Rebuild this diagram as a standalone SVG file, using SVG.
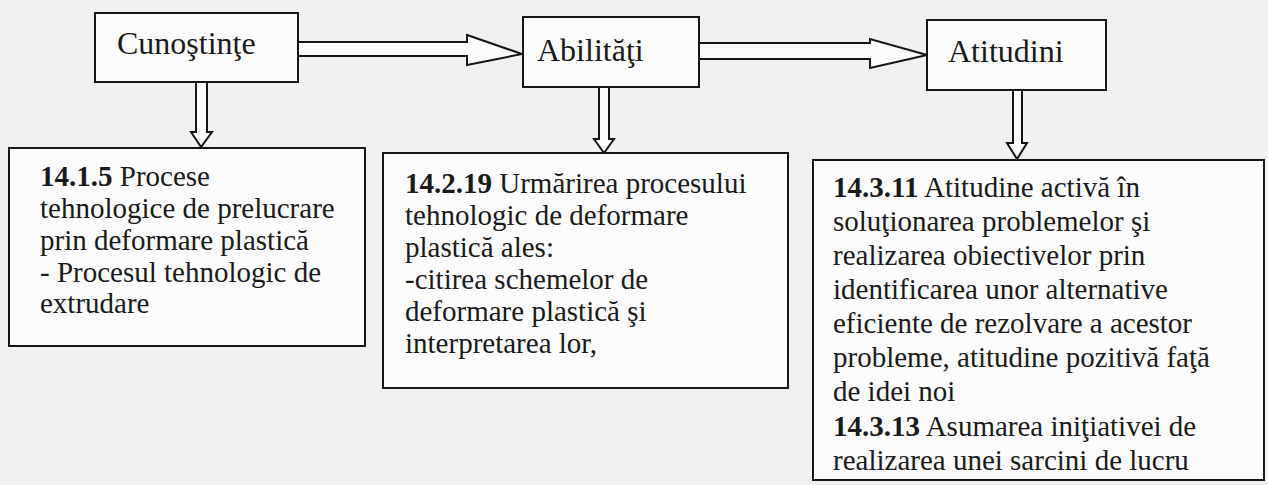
<svg xmlns="http://www.w3.org/2000/svg" width="1268" height="485" viewBox="0 0 1268 485">
<style>
.bg{fill:#f1f1f0}
.box{fill:#fcfcfc;stroke:#161616;stroke-width:2}
.arr{fill:#fcfcfc;stroke:#161616;stroke-width:2;stroke-linejoin:miter}
.lbl{font-family:"Liberation Serif","Times New Roman",serif;font-size:32px;fill:#1a1a1a}
.txt{font-family:"Liberation Serif","Times New Roman",serif;font-size:29px;fill:#1a1a1a}
.b{font-weight:bold}
</style>
<rect class="bg" x="0" y="0" width="1268" height="485"/>
<g id="connectors">
<polygon class="arr" points="298,42 467,42 467,35 522,54 467,65 467,56 298,56"/>
<polygon class="arr" points="699,43 870,43 870,39 927,55 870,68 870,59 699,59"/>
<polygon class="arr" points="196,82 196,132 191,132 201,147 212,132 207,132 207,82"/>
<polygon class="arr" points="599,87 599,139 594,139 604,153 614,139 609,139 609,87"/>
<polygon class="arr" points="1013,90 1013,143 1007,143 1017,159 1027,143 1022,143 1022,90"/>
</g>
<g id="cunostinte">
<rect class="box" x="95" y="13" width="203" height="69"/>
<text class="lbl" x="117" y="54">Cunoştinţe</text>
</g>
<g id="abilitati">
<rect class="box" x="523" y="17" width="176" height="70"/>
<text class="lbl" x="537" y="61">Abilităţi</text>
</g>
<g id="atitudini">
<rect class="box" x="927" y="20" width="179" height="70"/>
<text class="lbl" x="948" y="62">Atitudini</text>
</g>
<g id="c-detail">
<rect class="box" x="9" y="148" width="356" height="198"/>
<text class="txt" x="40" y="186"><tspan class="b">14.1.5</tspan> Procese</text>
<text class="txt" x="40" y="218">tehnologice de prelucrare</text>
<text class="txt" x="40" y="250">prin deformare plastică</text>
<text class="txt" x="40" y="282">- Procesul tehnologic de</text>
<text class="txt" x="40" y="313">extrudare</text>
</g>
<g id="a-detail">
<rect class="box" x="383" y="153" width="405" height="235"/>
<text class="txt" x="405" y="193"><tspan class="b">14.2.19</tspan> Urmărirea procesului</text>
<text class="txt" x="405" y="225">tehnologic de deformare</text>
<text class="txt" x="405" y="257">plastică ales:</text>
<text class="txt" x="405" y="289">-citirea schemelor de</text>
<text class="txt" x="405" y="321">deformare plastică şi</text>
<text class="txt" x="405" y="353">interpretarea lor,</text>
</g>
<g id="t-detail">
<rect class="box" x="813" y="160" width="451" height="320"/>
<text class="txt" x="833" y="197"><tspan class="b">14.3.11</tspan> Atitudine activă în</text>
<text class="txt" x="833" y="231">soluţionarea problemelor şi</text>
<text class="txt" x="833" y="265">realizarea obiectivelor prin</text>
<text class="txt" x="833" y="299">identificarea unor alternative</text>
<text class="txt" x="833" y="333">eficiente de rezolvare a acestor</text>
<text class="txt" x="833" y="367">probleme, atitudine pozitivă faţă</text>
<text class="txt" x="833" y="401">de idei noi</text>
<text class="txt" x="833" y="436"><tspan class="b">14.3.13</tspan> Asumarea iniţiativei de</text>
<text class="txt" x="833" y="470">realizarea unei sarcini de lucru</text>
</g>
</svg>
